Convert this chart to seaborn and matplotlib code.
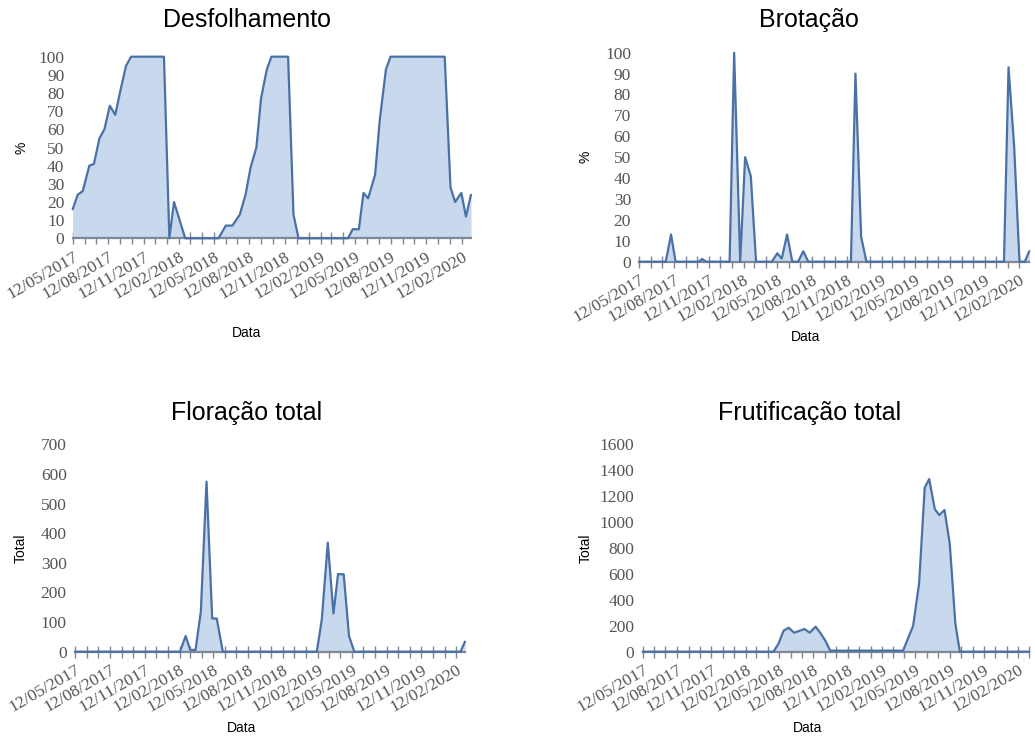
import pandas as pd
import matplotlib
matplotlib.use("Agg")
import matplotlib.pyplot as plt
import matplotlib.dates as mdates
import seaborn as sns

sns.set_theme(style="white")
plt.rcParams["font.family"] = ["Liberation Sans", "DejaVu Sans"]

# Desfolhamento (%)
desf_datas = ["12/05/2017", "25/05/2017", "07/06/2017", "24/06/2017", "06/07/2017", "20/07/2017",
              "02/08/2017", "16/08/2017", "30/08/2017", "13/09/2017", "27/09/2017", "10/10/2017",
              "03/01/2018", "17/01/2018", "29/01/2018", "27/02/2018", "24/05/2018", "12/06/2018",
              "29/06/2018", "18/07/2018", "02/08/2018", "15/08/2018", "30/08/2018", "11/09/2018",
              "26/09/2018", "08/10/2018", "20/11/2018", "04/12/2018", "17/12/2018", "24/04/2019",
              "06/05/2019", "22/05/2019", "03/06/2019", "15/06/2019", "03/07/2019", "15/07/2019",
              "31/07/2019", "12/08/2019", "30/12/2019", "14/01/2020", "26/01/2020", "11/02/2020",
              "23/02/2020", "07/03/2020"]
desf_valores = [16, 24, 26, 40, 41, 55, 60, 73, 68, 82, 95, 100,
                100, 0, 20, 0, 0, 7, 7, 13, 24, 39, 50, 77,
                93, 100, 100, 13, 0, 0, 5, 5, 25, 22, 35, 65,
                93, 100, 100, 28, 20, 25, 12, 24]

# Brotação (%)
brot_datas = ["12/05/2017", "21/07/2017", "04/08/2017", "16/08/2017", "16/10/2017", "25/10/2017",
              "05/11/2017", "06/01/2018", "18/01/2018", "03/02/2018", "16/02/2018", "03/03/2018",
              "17/03/2018", "28/04/2018", "12/05/2018", "24/05/2018", "07/06/2018", "21/06/2018",
              "06/07/2018", "20/07/2018", "02/08/2018", "23/11/2018", "05/12/2018", "20/12/2018",
              "03/01/2019", "02/01/2020", "14/01/2020", "29/01/2020", "12/02/2020", "26/02/2020",
              "09/03/2020"]
brot_valores = [0, 0, 13, 0, 0, 1.3, 0, 0, 100, 0, 50, 41,
                0, 0, 4, 1.5, 13, 0, 0, 5, 0, 0, 90, 12,
                0, 0, 93, 55, 0, 0, 5]

# Floração total
flor_datas = ["12/05/2017", "13/02/2018", "28/02/2018", "12/03/2018", "26/03/2018", "09/04/2018",
              "24/04/2018", "09/05/2018", "21/05/2018", "06/06/2018", "09/02/2019", "22/02/2019",
              "10/03/2019", "25/03/2019", "06/04/2019", "21/04/2019", "05/05/2019", "19/05/2019",
              "23/02/2020", "06/03/2020"]
flor_valores = [0, 0, 53, 6, 6, 135, 574, 112, 112, 0, 0, 107,
                368, 129, 262, 261, 53, 0, 0, 34]

# Frutificação total
frut_datas = ["12/05/2017", "27/04/2018", "11/05/2018", "24/05/2018", "07/06/2018", "21/06/2018",
              "04/07/2018", "19/07/2018", "02/08/2018", "18/08/2018", "30/08/2018", "13/09/2018",
              "26/09/2018", "09/04/2019", "06/05/2019", "22/05/2019", "06/06/2019", "18/06/2019",
              "03/07/2019", "15/07/2019", "29/07/2019", "12/08/2019", "27/08/2019", "08/09/2019",
              "12/03/2020"]
frut_valores = [0, 0, 64, 162, 185, 147, 159, 175, 147, 193, 147, 85,
                8, 8, 200, 527, 1265, 1332, 1100, 1054, 1093, 835, 218, 0,
                0]

LINHA = "#4a71a6"
AREA = "#c8d8ed"
EIXO = "#7d8796"
W, H = 1035, 736

fig = plt.figure(figsize=(W / 100, H / 100), dpi=100)


def painel(rect_px, datas, valores, ymax, ystep, titulo, ylabel, titulo_xy, ylab_xy, xlab_xy):
    l, r, t, b = rect_px
    ax = fig.add_axes([l / W, 1 - b / H, (r - l) / W, (b - t) / H])
    df = pd.DataFrame({"Data": pd.to_datetime(datas, format="%d/%m/%Y"), "Valor": valores})
    ax.fill_between(df["Data"], 0, df["Valor"], color=AREA, lw=0)
    sns.lineplot(data=df, x="Data", y="Valor", ax=ax, color=LINHA, lw=1.6, clip_on=False)
    ax.set_xlim(df["Data"].min(), df["Data"].max())
    ax.set_ylim(0, ymax)
    ax.set_yticks(range(0, ymax + 1, ystep))
    ax.xaxis.set_major_locator(mdates.MonthLocator(bymonth=[2, 5, 8, 11], bymonthday=12))
    ax.xaxis.set_minor_locator(mdates.MonthLocator(bymonthday=12))
    ax.xaxis.set_major_formatter(mdates.DateFormatter("%d/%m/%Y"))
    for s in ["top", "right", "left"]:
        ax.spines[s].set_visible(False)
    ax.spines["bottom"].set_color(EIXO)
    ax.spines["bottom"].set_linewidth(1.6)
    ax.spines["bottom"].set_zorder(1)
    ax.tick_params(axis="x", which="both", direction="inout", length=8, width=1,
                   color=EIXO, bottom=True)
    ax.tick_params(axis="y", length=0, pad=6)
    for lab in ax.get_xticklabels():
        lab.set_rotation(30)
        lab.set_ha("right")
        lab.set_rotation_mode("anchor")
    for lab in ax.get_xticklabels() + ax.get_yticklabels():
        lab.set_family("Liberation Serif")
        lab.set_fontsize(12.5)
        lab.set_color("#555555")
    ax.set_xlabel("")
    ax.set_ylabel("")
    fig.text(titulo_xy[0] / W, 1 - titulo_xy[1] / H, titulo, ha="center", va="center",
             fontsize=18, color="black")
    fig.text(ylab_xy[0] / W, 1 - ylab_xy[1] / H, ylabel, ha="center", va="center",
             rotation=90, fontsize=10, color="black")
    fig.text(xlab_xy[0] / W, 1 - xlab_xy[1] / H, "Data", ha="center", va="center",
             fontsize=10, color="black")
    return ax


painel((72.7, 471, 56.7, 238.3), desf_datas, desf_valores, 100, 10,
       "Desfolhamento", "%", (247, 20), (22, 148), (247, 333))
painel((639.3, 1029.3, 52.7, 261.7), brot_datas, brot_valores, 100, 10,
       "Brotação", "%", (809, 20), (586, 157), (806, 337))
painel((75, 465, 444.3, 651.7), flor_datas, flor_valores, 700, 100,
       "Floração total", "Total", (247, 413), (21, 548), (242, 728))
painel((642.7, 1029.3, 444.3, 651.7), frut_datas, frut_valores, 1600, 200,
       "Frutificação total", "Total", (810, 413), (586, 548), (808, 728))

fig.savefig("out.png", dpi=100)
